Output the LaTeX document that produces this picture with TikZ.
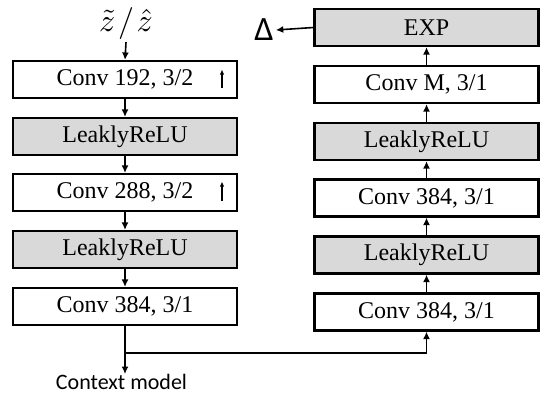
\documentclass[tikz,border=0pt]{standalone}
\usepackage{fontspec}
\newfontfamily\boxfont{Liberation Serif}
\newfontfamily\labelfont{Carlito}
\usetikzlibrary{arrows.meta}
\definecolor{actfill}{HTML}{D9D9D9}
\tikzset{
  blk/.style={draw, line width=2.2bp, minimum width=224bp, minimum height=37bp,
    inner sep=0pt, font=\boxfont\fontsize{24bp}{26bp}\selectfont},
  act/.style={blk, fill=actfill},
  flow/.style={line width=1.6bp, -{Latex[length=7.5bp,width=7bp]}},
  stride/.style={line width=1.1bp, -{Latex[length=5bp,width=4.5bp]}},
}
\begin{document}
\begin{tikzpicture}[x=1bp,y=-1bp]
\useasboundingbox (0,0) rectangle (540,394);

% left column
\node[blk] (l1) at (125,79.5) {Conv 192, 3/2};
\node[act] (l2) at (125,136.5) {LeaklyReLU};
\node[blk] (l3) at (125,192.5) {Conv 288, 3/2};
\node[act] (l4) at (125,249.5) {LeaklyReLU};
\node[blk] (l5) at (125,306.5) {Conv 384, 3/1};

% right column
\node[act] (r1) at (426.5,27.5) {EXP};
\node[blk] (r2) at (426.5,84.5) {Conv M, 3/1};
\node[act] (r3) at (426.5,141.5) {LeaklyReLU};
\node[blk] (r4) at (426.5,198) {Conv 384, 3/1};
\node[act] (r5) at (426.5,255) {LeaklyReLU};
\node[blk] (r6) at (426.5,312) {Conv 384, 3/1};

% input, output and context labels
\node[inner sep=0.5pt, scale=3.2] (in) at (126,24)
  {\fontsize{10bp}{12bp}\selectfont$\tilde{z}\mkern1.5mu/\mkern1.5mu\hat{z}$};
\node[inner sep=0pt] (delta) at (264,30) {\labelfont\fontsize{34bp}{36bp}\selectfont Δ};
\node[inner sep=0pt, anchor=north] (ctx) at (121.5,374) {\labelfont\fontsize{22bp}{24bp}\selectfont Context model};

% left column flow
\draw[flow] (in.south) -- (l1.north);
\draw[flow] (l1) -- (l2);
\draw[flow] (l2) -- (l3);
\draw[flow] (l3) -- (l4);
\draw[flow] (l4) -- (l5);
\coordinate (split) at (125,353);
\draw[flow] (l5.south) -- (split) -- (split |- ctx.north);

% right column flow
\draw[flow] (split) -| (r6.south);
\draw[flow] (r6) -- (r5);
\draw[flow] (r5) -- (r4);
\draw[flow] (r4) -- (r3);
\draw[flow] (r3) -- (r2);
\draw[flow] (r2) -- (r1);
\draw[flow] (r1.west) -- ([xshift=2bp]delta.east);

% stride marks inside the strided convolutions
\coordinate (s1) at (222,87.5);
\coordinate (s3) at (222,200.5);
\draw[stride] (s1) -- ++(0,-18);
\draw[stride] (s3) -- ++(0,-19);
\end{tikzpicture}
\end{document}
